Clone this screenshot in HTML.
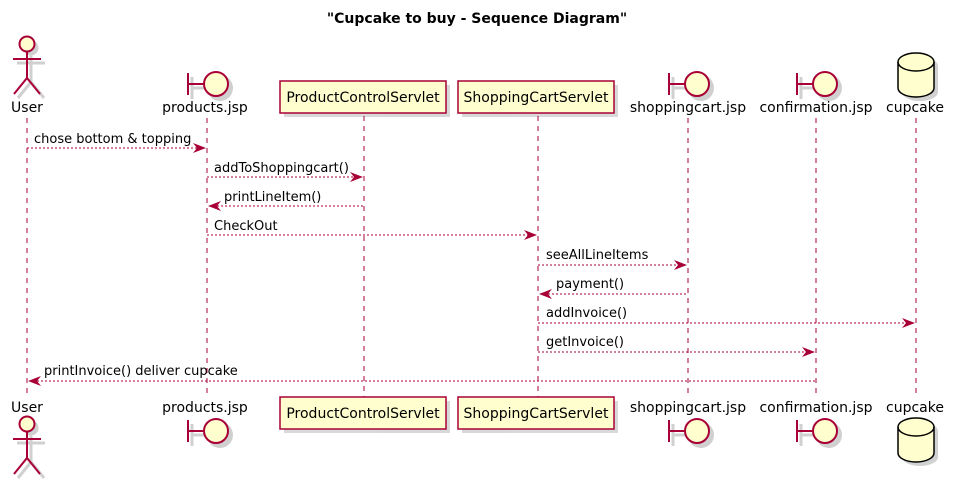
<!DOCTYPE html>
<html><head><meta charset="utf-8"><style>html,body{margin:0;padding:0;background:#fff}svg{display:block}text{font-family:"DejaVu Sans","Liberation Sans",sans-serif}</style></head><body>
<svg width="954" height="485" viewBox="0 0 954 485" xmlns="http://www.w3.org/2000/svg">
<defs>
<g id="actorS" opacity="0.18"><circle cx="0" cy="0" r="7.5" fill="#000"/><line x1="0" y1="7.5" x2="0" y2="34" stroke="#000" stroke-width="3"/><line x1="-14" y1="15" x2="14" y2="15" stroke="#000" stroke-width="3"/><polyline points="-13,50 0,34 13,50" fill="none" stroke="#000" stroke-width="3"/></g>
<g id="actor"><circle cx="0" cy="0" r="7.5" fill="#FEFECE" stroke="#A80036" stroke-width="2"/><line x1="0" y1="7.5" x2="0" y2="34" stroke="#A80036" stroke-width="2"/><line x1="-14" y1="15" x2="14" y2="15" stroke="#A80036" stroke-width="2"/><polyline points="-13,50 0,34 13,50" fill="none" stroke="#A80036" stroke-width="2"/></g>
<g id="bndS" opacity="0.18"><line x1="-19" y1="-11" x2="-19" y2="11" stroke="#000" stroke-width="3"/><line x1="-19" y1="0" x2="-3" y2="0" stroke="#000" stroke-width="3"/><circle cx="9" cy="0" r="13" fill="#000"/></g>
<g id="bnd"><line x1="-19" y1="-11" x2="-19" y2="11" stroke="#A80036" stroke-width="2"/><line x1="-19" y1="0" x2="-3" y2="0" stroke="#A80036" stroke-width="2"/><circle cx="9" cy="0" r="12" fill="#FEFECE" stroke="#A80036" stroke-width="2"/></g>
<g id="db"><path d="M4,14 A18,9 0 0 1 40,14 L40,40 A18,9 0 0 1 4,40 Z" fill="#000" opacity="0.18"/><path d="M0,10 A18,9 0 0 1 36,10 L36,36 A18,9 0 0 1 0,36 Z" fill="#FEFECE" stroke="#000" stroke-width="1.5"/><path d="M0,10 A18,9 0 0 0 36,10" fill="none" stroke="#000" stroke-width="1.5"/></g>
</defs>
<text x="477" y="23" text-anchor="middle" font-size="14" font-weight="bold">"Cupcake to buy - Sequence Diagram"</text>
<g stroke="#A80036" stroke-width="1" stroke-dasharray="5,5">
<line x1="27" y1="118" x2="27" y2="398"/><line x1="207" y1="118" x2="207" y2="398"/><line x1="364" y1="116" x2="364" y2="397"/><line x1="538" y1="116" x2="538" y2="397"/><line x1="688" y1="118" x2="688" y2="398"/><line x1="816" y1="118" x2="816" y2="398"/><line x1="916" y1="118" x2="916" y2="398"/>
</g>
<g fill="#000" opacity="0.15"><rect x="284" y="85" width="166" height="32"/><rect x="462" y="85" width="156" height="32"/><rect x="284" y="401" width="166" height="32"/><rect x="462" y="401" width="156" height="32"/></g>
<g fill="#FEFECE" stroke="#A80036" stroke-width="1.5"><rect x="280" y="81" width="166" height="32"/><rect x="458" y="81" width="156" height="32"/><rect x="280" y="397" width="166" height="32"/><rect x="458" y="397" width="156" height="32"/></g>
<g font-size="14" text-anchor="middle">
<text x="363" y="102">ProductControlServlet</text><text x="536" y="102">ShoppingCartServlet</text>
<text x="363" y="418">ProductControlServlet</text><text x="536" y="418">ShoppingCartServlet</text>
<text x="27" y="112">User</text><text x="205" y="112">products.jsp</text><text x="688" y="112">shoppingcart.jsp</text><text x="816" y="112">confirmation.jsp</text><text x="915" y="112">cupcake</text>
<text x="27" y="412">User</text><text x="205" y="412">products.jsp</text><text x="688" y="412">shoppingcart.jsp</text><text x="816" y="412">confirmation.jsp</text><text x="915" y="412">cupcake</text>
</g>
<use href="#actorS" x="31" y="48"/><use href="#actorS" x="31" y="428"/>
<use href="#actor" x="27" y="44"/><use href="#actor" x="27" y="424"/>
<use href="#bndS" x="211" y="88"/><use href="#bndS" x="692" y="88"/><use href="#bndS" x="820" y="88"/>
<use href="#bndS" x="211" y="435"/><use href="#bndS" x="692" y="435"/><use href="#bndS" x="820" y="435"/>
<use href="#bnd" x="207" y="84"/><use href="#bnd" x="688" y="84"/><use href="#bnd" x="816" y="84"/>
<use href="#bnd" x="207" y="431"/><use href="#bnd" x="688" y="431"/><use href="#bnd" x="816" y="431"/>
<use href="#db" x="898" y="52"/><use href="#db" x="898" y="417"/>
<g stroke="#A80036" stroke-width="1" stroke-dasharray="2,2" fill="none">
<line x1="27" y1="148" x2="205" y2="148"/><line x1="207" y1="177" x2="362" y2="177"/><line x1="209" y1="206" x2="364" y2="206"/><line x1="207" y1="235" x2="536" y2="235"/><line x1="538" y1="265" x2="686" y2="265"/><line x1="540" y1="294" x2="688" y2="294"/><line x1="538" y1="323" x2="914" y2="323"/><line x1="538" y1="352" x2="814" y2="352"/><line x1="29" y1="381" x2="816" y2="381"/>
</g>
<g fill="#A80036">
<path d="M206,148 l-13,-5 l4,5 l-4,5z"/><path d="M363,177 l-13,-5 l4,5 l-4,5z"/><path d="M208,206 l13,-5 l-4,5 l4,5z"/><path d="M537,235 l-13,-5 l4,5 l-4,5z"/><path d="M687,265 l-13,-5 l4,5 l-4,5z"/><path d="M539,294 l13,-5 l-4,5 l4,5z"/><path d="M915,323 l-13,-5 l4,5 l-4,5z"/><path d="M815,352 l-13,-5 l4,5 l-4,5z"/><path d="M28,381 l13,-5 l-4,5 l4,5z"/>
</g>
<g font-size="13">
<text x="34" y="143">chose bottom &amp; topping</text><text x="214" y="172">addToShoppingcart()</text><text x="224" y="201">printLineItem()</text><text x="214" y="230">CheckOut</text><text x="546" y="259">seeAllLineItems</text><text x="556" y="288">payment()</text><text x="546" y="317">addInvoice()</text><text x="546" y="346">getInvoice()</text><text x="44" y="375">printInvoice() deliver cupcake</text>
</g>
</svg>
</body></html>
